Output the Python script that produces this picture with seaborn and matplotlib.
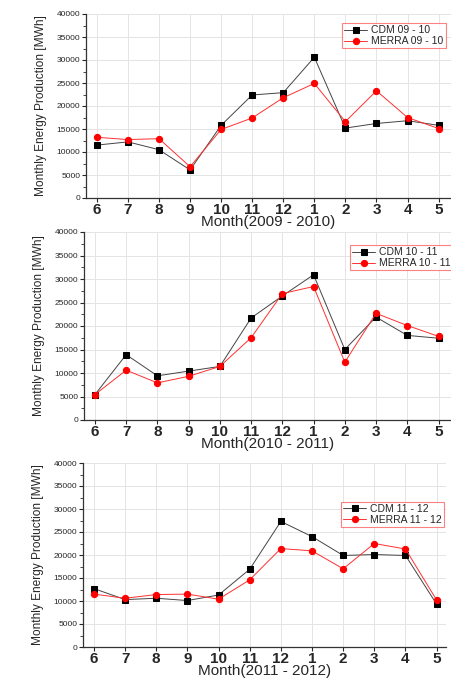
import matplotlib
matplotlib.use("Agg")
import matplotlib.pyplot as plt
import seaborn as sns
import numpy as np
import pandas as pd
from matplotlib.ticker import AutoMinorLocator, MultipleLocator

months = ["6", "7", "8", "9", "10", "11", "12", "1", "2", "3", "4", "5"]

cdm_0910 = [11500, 12200, 10500, 6100, 15800, 22400, 22900, 30600, 15200, 16200, 16800, 15800]
merra_0910 = [13200, 12700, 12900, 6800, 14900, 17400, 21800, 24900, 16600, 23300, 17500, 15100]

cdm_1011 = [5400, 13900, 9400, 10400, 11400, 21700, 26400, 30900, 15000, 21900, 18000, 17400]
merra_1011 = [5400, 10600, 7900, 9300, 11400, 17500, 26900, 28400, 12300, 22700, 20100, 17800]

cdm_1112 = [12700, 10300, 10600, 10100, 11300, 16900, 27300, 24000, 19900, 20100, 19900, 9300]
merra_1112 = [11500, 10600, 11400, 11500, 10400, 14600, 21400, 20900, 17000, 22500, 21300, 10200]

xlabels = ["Month(2009 - 2010)", "Month(2010 - 2011)", "Month(2011 - 2012)"]
cdm_names = ["CDM 09 - 10", "CDM 10 - 11", "CDM 11 - 12"]
merra_names = ["MERRA 09 - 10", "MERRA 10 - 11", "MERRA 11 - 12"]
ylabel = "Monthly Energy Production [MWh]"

sns.set_theme(style="white")
plt.rcParams['font.family'] = ['Liberation Sans', 'DejaVu Sans']

fig = plt.figure(figsize=(4.52, 6.81), dpi=100)
W, H = 452, 681
boxes = [
    (86, 14, 451, 198),
    (84, 232, 451, 420),
    (83, 463, 446, 647),
]
legend_anchor = [(0.985, 0.95), (1.005, 0.93), (0.995, 0.79)]

series = [(cdm_0910, merra_0910), (cdm_1011, merra_1011), (cdm_1112, merra_1112)]

for i, (l, t, r, b) in enumerate(boxes):
    ax = fig.add_axes([l / W, 1 - b / H, (r - l) / W, (b - t) / H])
    cdm, merra = series[i]
    df = pd.DataFrame({"pos": np.arange(len(months)), "cdm": cdm, "merra": merra})
    sns.lineplot(data=df, x="pos", y="cdm", ax=ax, color="#444444", lw=0.7,
                 marker="s", markersize=4.5, markerfacecolor="black",
                 markeredgecolor="black", label=cdm_names[i])
    sns.lineplot(data=df, x="pos", y="merra", ax=ax, color="#ff3030", lw=0.7,
                 marker="o", markersize=4.5, markerfacecolor="red",
                 markeredgecolor="red", label=merra_names[i])
    ax.set_xlim(-0.35, 11.4 if i < 2 else 11.3)
    ax.set_ylim(0, 40000)
    ax.set_xticks(np.arange(len(months)))
    ax.set_xticklabels(months, fontsize=11, fontweight="bold")
    ax.yaxis.set_major_locator(MultipleLocator(5000))
    ax.yaxis.set_minor_locator(AutoMinorLocator(2))
    ax.tick_params(axis="y", which="major", labelsize=6, length=3, width=0.8,
                   direction="out", left=True, pad=1)
    ax.tick_params(axis="y", which="minor", length=2, width=0.6, left=True)
    ax.tick_params(axis="x", which="major", length=3, width=0.8, bottom=True, pad=0.5)
    ax.grid(True, which="major", color="#e4e4e4", lw=0.7)
    for s in ["top", "right"]:
        ax.spines[s].set_visible(False)
    for s in ["left", "bottom"]:
        ax.spines[s].set_color("#333333")
        ax.spines[s].set_linewidth(0.9)
    ax.set_xlabel(xlabels[i], fontsize=11, labelpad=-1)
    ax.set_ylabel(ylabel, fontsize=8.6, labelpad=7)
    leg = ax.legend(loc="upper right", bbox_to_anchor=legend_anchor[i],
                    fontsize=7.5, frameon=True, fancybox=False,
                    handlelength=2.2, borderpad=0.2, labelspacing=0.1,
                    handletextpad=0.4, borderaxespad=0)
    leg.get_frame().set_edgecolor("#ff6060")
    leg.get_frame().set_linewidth(0.8)

fig.savefig("out.png", dpi=100)
